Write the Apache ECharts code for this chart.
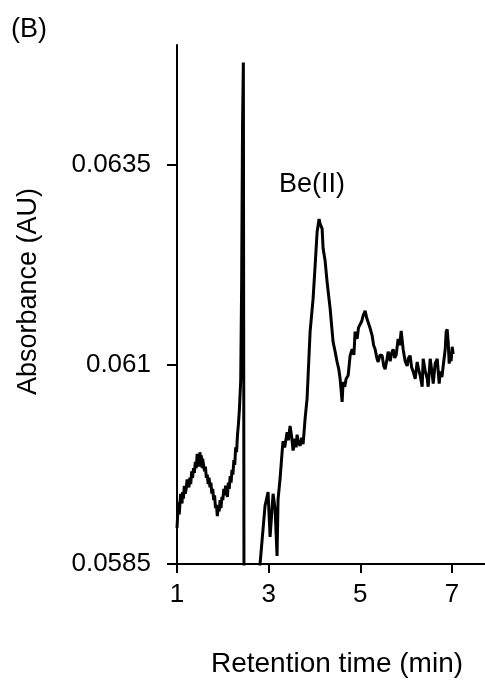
<!DOCTYPE html>
<html>
<head>
<meta charset="utf-8">
<script src="https://cdn.jsdelivr.net/npm/echarts@6/dist/echarts.min.js"></script>
<style>html,body{margin:0;padding:0;background:#fff;}#c{width:485px;height:683px;}</style>
</head>
<body>
<div id="c"></div>
<script>
// Retention time (min)
var times = [
1.00,1.02,1.03,1.05,1.06,1.08,1.09,1.11,1.12,1.14,1.16,1.18,1.20,1.22,1.24,1.26,1.28,1.30,1.32,1.34,
1.36,1.38,1.40,1.42,1.44,1.46,1.47,1.49,1.50,1.52,1.53,1.55,1.56,1.58,1.60,1.62,1.64,1.66,1.68,1.70,
1.72,1.74,1.76,1.78,1.80,1.82,1.84,1.86,1.88,1.90,1.92,1.94,1.96,1.98,2.00,2.02,2.04,2.06,2.08,2.10,
2.12,2.14,2.16,2.18,2.20,2.22,2.24,2.26,2.28,2.30,2.32,2.34,2.36,2.39,2.41,2.43,
2.448,2.463,2.60,2.70,2.812,2.921,2.987,3.031,3.096,3.140,3.183,3.205,3.249,3.293,3.314,3.35,3.402,3.43,3.467,3.50,
3.533,3.576,3.60,3.620,3.65,3.686,3.72,3.751,3.795,3.838,3.904,3.969,4.013,4.057,4.100,4.122,4.166,4.188,4.231,4.275,
4.341,4.406,4.45,4.493,4.53,4.559,4.603,4.624,4.66,4.690,4.734,4.777,4.821,4.86,4.886,4.930,4.96,4.996,5.03,5.061,
5.105,5.14,5.170,5.21,5.258,5.29,5.323,5.36,5.389,5.43,5.476,5.51,5.541,5.58,5.607,5.651,5.68,5.716,5.75,5.782,
5.825,5.86,5.891,5.934,5.978,6.022,6.05,6.087,6.12,6.153,6.197,6.240,6.27,6.306,6.349,6.371,6.415,6.459,6.480,6.524,
6.568,6.590,6.633,6.677,6.721,6.742,6.78,6.808,6.852,6.873,6.895,6.917,6.939,6.961,6.98,7.004,7.026
];
// Absorbance (AU)
var absorbance = [
0.05895,0.05918,0.05928,0.05912,0.05922,0.05938,0.05930,0.05926,0.05940,0.05932,0.05948,0.05938,0.05944,0.05956,0.05950,0.05946,0.05958,0.05950,0.05966,0.05958,
0.05970,0.05964,0.05978,0.05970,0.05988,0.05976,0.05984,0.05972,0.05990,0.05978,0.05986,0.05970,0.05982,0.05974,0.05966,0.05972,0.05958,0.05962,0.05950,0.05958,
0.05946,0.05952,0.05938,0.05944,0.05930,0.05936,0.05920,0.05924,0.05910,0.05922,0.05916,0.05930,0.05920,0.05934,0.05930,0.05944,0.05936,0.05948,0.05940,0.05934,
0.05952,0.05944,0.05960,0.05952,0.05968,0.05962,0.05980,0.05974,0.05996,0.05990,0.06012,0.06025,0.06042,0.06080,0.06200,0.06400,
0.06478,0.05750,0.05780,0.05790,0.05850,0.05923,0.05940,0.05884,0.05938,0.05919,0.05860,0.05931,0.05957,0.05990,0.06004,0.05996,0.06015,0.06005,0.06023,0.06010,
0.05992,0.06007,0.05996,0.06012,0.06002,0.05998,0.06008,0.06000,0.06032,0.06057,0.06141,0.06182,0.06223,0.06266,0.06282,0.06276,0.06270,0.06245,0.06230,0.06203,
0.06170,0.06128,0.06116,0.06103,0.06094,0.06082,0.06053,0.06078,0.06072,0.06082,0.06086,0.06111,0.06119,0.06112,0.06141,0.06132,0.06146,0.06148,0.06154,0.06161,
0.06167,0.06158,0.06157,0.06146,0.06136,0.06124,0.06119,0.06108,0.06103,0.06112,0.06111,0.06098,0.06094,0.06106,0.06116,0.06104,0.06114,0.06119,0.06108,0.06112,
0.06132,0.06124,0.06142,0.06119,0.06104,0.06098,0.06108,0.06111,0.06096,0.06091,0.06082,0.06103,0.06094,0.06086,0.06072,0.06107,0.06092,0.06082,0.06072,0.06107,
0.06088,0.06076,0.06101,0.06107,0.06076,0.06091,0.06084,0.06098,0.06119,0.06141,0.06144,0.06128,0.06101,0.06111,0.06104,0.06122,0.06113
];
var yTicks = [0.0585, 0.061, 0.0635];
var xTicks = [1, 3, 5, 7];

var data = times.map(function (t, i) { return [t, absorbance[i]]; });
var font = 'Liberation Sans, Arial, Helvetica, sans-serif';
var chart = echarts.init(document.getElementById('c'), null, {renderer: 'canvas'});
chart.setOption({
  animation: false,
  backgroundColor: '#fff',
  grid: {left: 177, top: 45, right: 0, bottom: 118, containLabel: false},
  xAxis: {
    type: 'value', min: 1, max: 7.72,
    name: 'Retention time (min)', nameLocation: 'middle', nameGap: 86,
    nameTextStyle: {color: '#000', fontSize: 28, fontFamily: font, padding: [0, 0, 0, 12]},
    axisLine: {show: true, onZero: false, lineStyle: {color: '#000', width: 2}},
    axisTick: {show: true, inside: false, length: 9, lineStyle: {color: '#000', width: 2}, customValues: xTicks},
    axisLabel: {color: '#000', fontSize: 26, fontFamily: font, margin: 18, customValues: xTicks, formatter: function (v) { return String(v); }},
    splitLine: {show: false}
  },
  yAxis: {
    type: 'value', min: 0.0585, max: 0.065,
    name: 'Absorbance (AU)', nameLocation: 'middle', nameGap: 135,
    nameTextStyle: {color: '#000', fontSize: 27, fontFamily: font, padding: [0, 0, 0, 26]},
    axisLine: {show: true, onZero: false, lineStyle: {color: '#000', width: 2}},
    axisTick: {show: true, inside: false, length: 10, lineStyle: {color: '#000', width: 2}, customValues: yTicks},
    axisLabel: {color: '#000', fontSize: 26, fontFamily: font, margin: 26, customValues: yTicks, formatter: function (v) { return String(v); }},
    splitLine: {show: false}
  },
  graphic: [
    {type: 'text', left: 11, top: 16, style: {text: '(B)', fontSize: 27, fontFamily: font, fill: '#000'}},
    {type: 'text', left: 279, top: 171, style: {text: 'Be(II)', fontSize: 27, fontFamily: font, fill: '#000'}}
  ],
  series: [{
    type: 'line', data: data, showSymbol: false, symbol: 'none', clip: true,
    lineStyle: {color: '#000', width: 3}
  }]
});
</script>
</body>
</html>
